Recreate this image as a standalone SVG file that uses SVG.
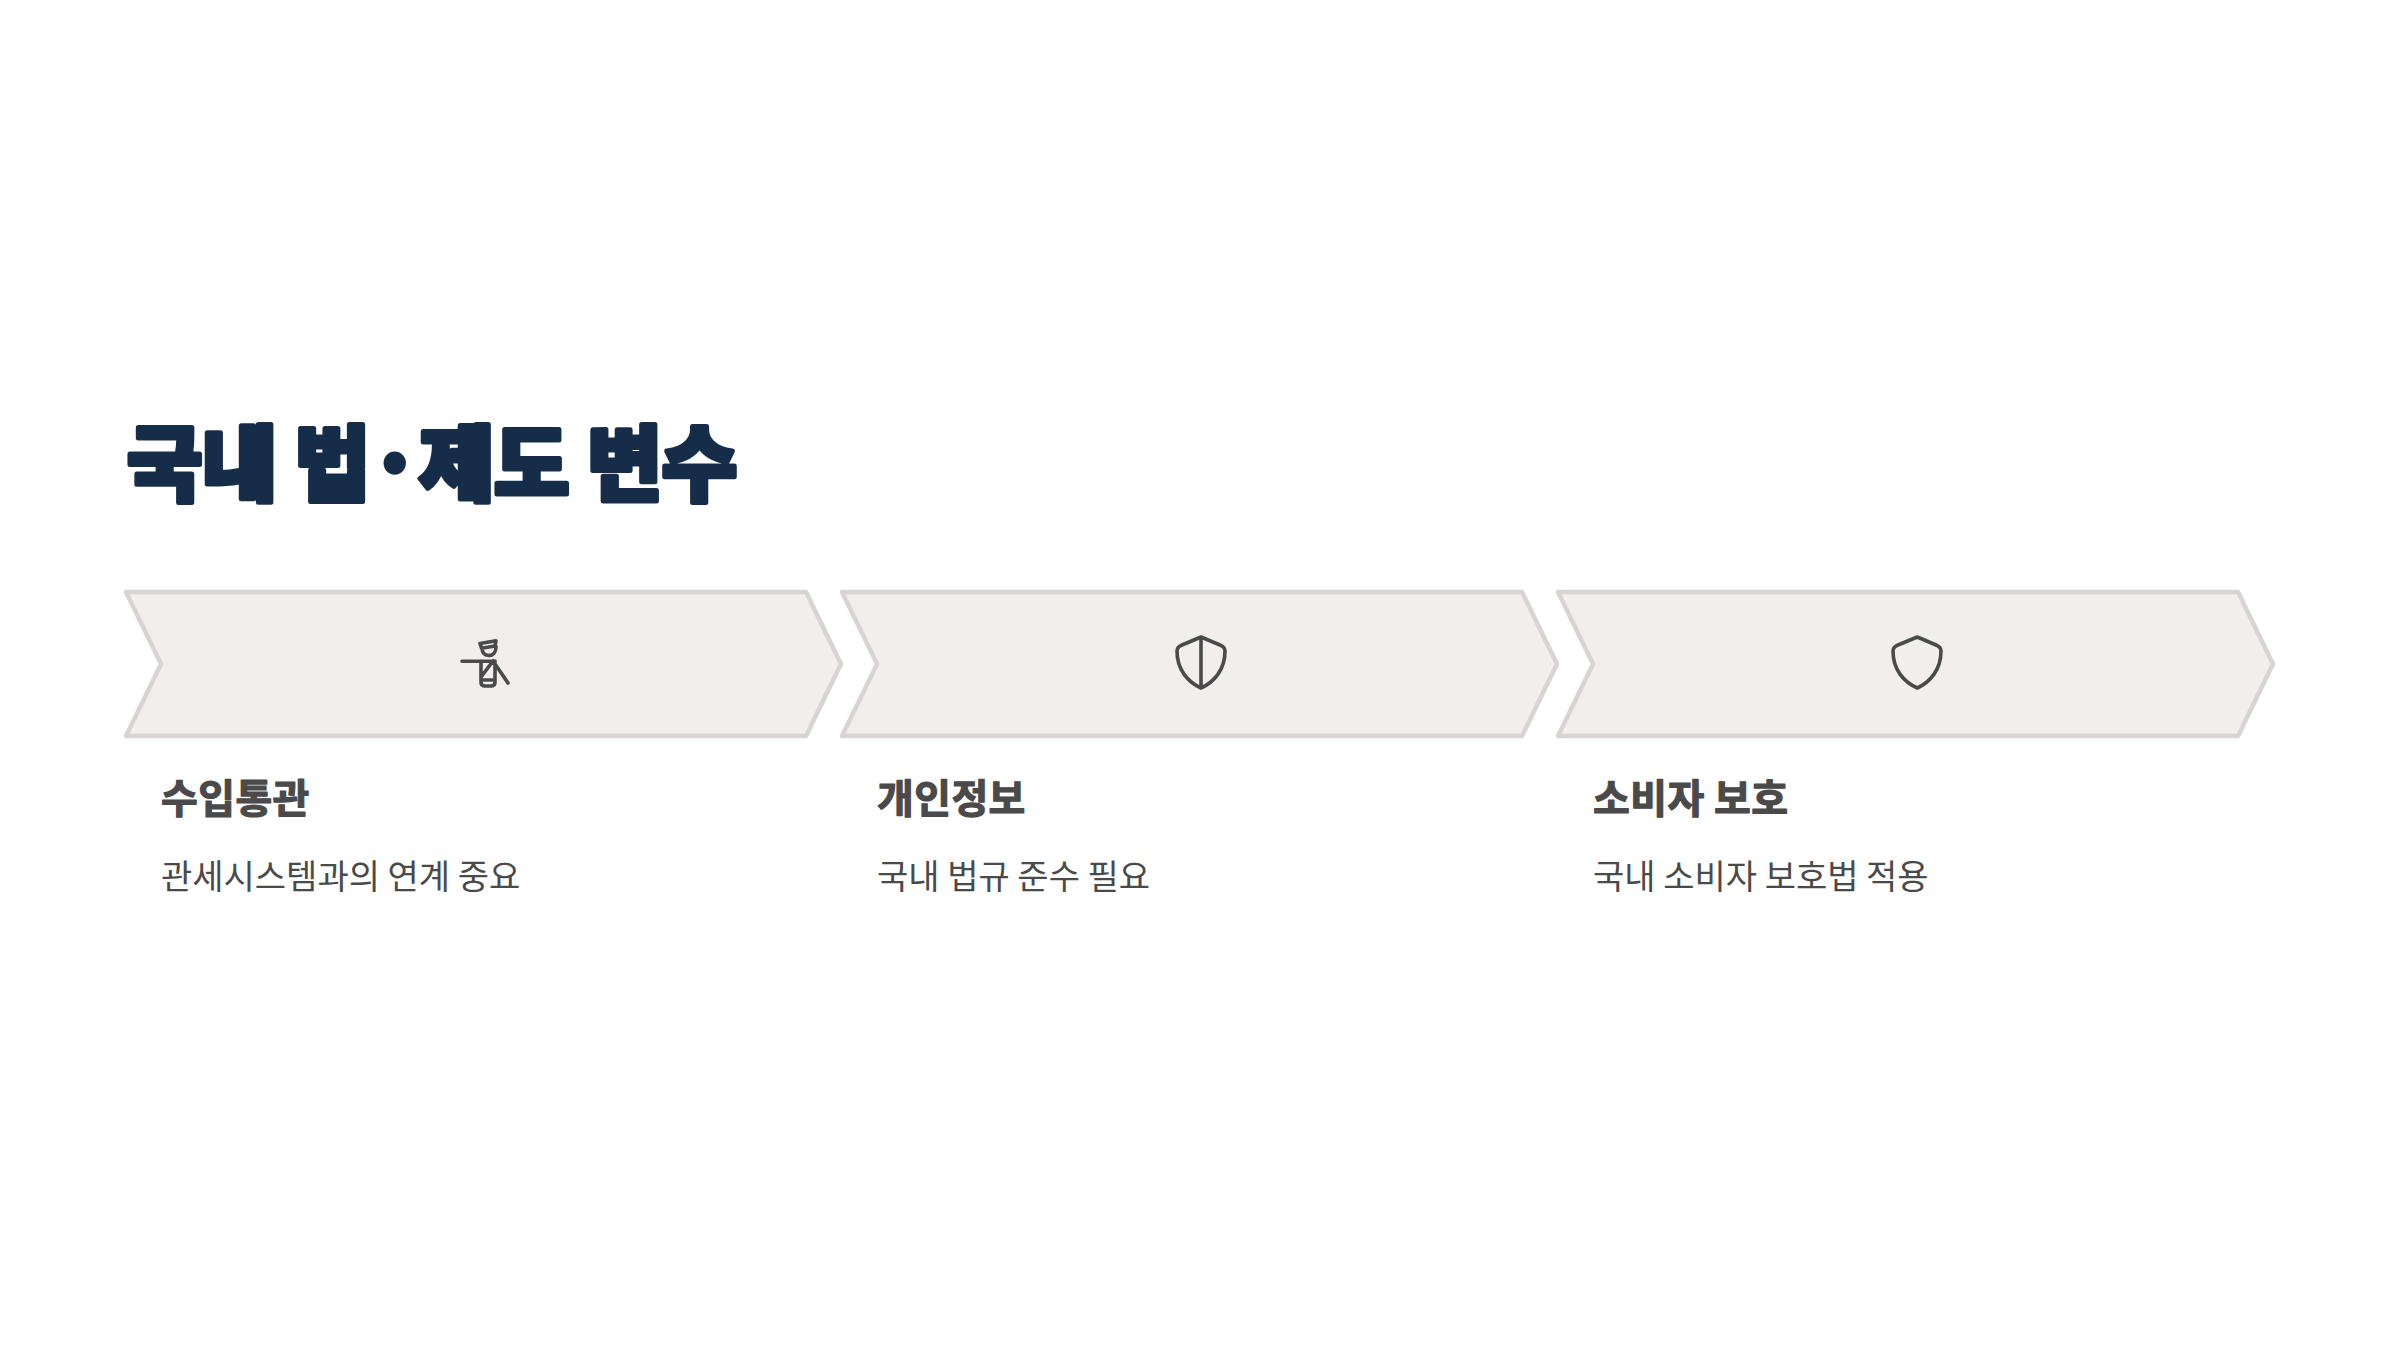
<svg xmlns="http://www.w3.org/2000/svg" width="2400" height="1350" viewBox="0 0 2400 1350">
<style>
.bg{fill:#fff}
.ch{fill:#f1eeed;stroke:#d8d4d3;stroke-width:4.5;stroke-linejoin:round}
.ic{fill:none;stroke:#4a4a4a;stroke-width:3.6;stroke-linecap:round;stroke-linejoin:round}
.t{font-family:"Noto Sans CJK KR","Noto Sans",sans-serif}
.ti{font-size:82px;font-weight:900;fill:#162d4a;stroke:#162d4a;stroke-width:5;stroke-linejoin:round;letter-spacing:-0.6px}
.h{font-size:40px;font-weight:700;fill:#4a4a4a;stroke:#4a4a4a;stroke-width:1.2;stroke-linejoin:round;letter-spacing:.4px}
.s{font-size:34px;font-weight:400;fill:#4a4a4a}
</style>
<rect class="bg" width="2400" height="1350"/>
<text class="t ti" x="127" y="494">국내 법·제도 변수</text>
<g id="node1"><path class="ch" d="M126 592H806L841 664L806 736H126L161 664Z"/>
<g class="ic"><path d="M480 643.5L496 640.7L495 646L481.7 648.3ZM482 648c0 5 3 7.5 7 7.5s7-3 7-9M462 661.3H492M481 661V682q0 4 4 4h6q4 0 4-4V661M481 677L493 661M481 680H494M493 661L508 683"/></g>
<text class="t h" x="161" y="813">수입통관</text><text class="t s" x="161" y="889">관세시스템과의 연계 중요</text></g>
<g id="node2"><path class="ch" d="M842 592H1522L1557 664L1522 736H842L877 664Z"/>
<g class="ic"><path d="M1201 637L1182 645Q1177 647 1177 651C1177 670 1188 682 1201 688C1214 682 1225 670 1225 651Q1225 647 1220 645ZM1201 637V688"/></g>
<text class="t h" x="877" y="813">개인정보</text><text class="t s" x="877" y="889">국내 법규 준수 필요</text></g>
<g id="node3"><path class="ch" d="M1558 592H2238L2273 664L2238 736H1558L1593 664Z"/>
<g class="ic"><path d="M1917.3 637L1898 645Q1893 647 1893 651C1893 670 1904 682 1917.3 688C1930 682 1941 670 1941 651Q1941 647 1936 645Z"/></g>
<text class="t h" x="1593" y="813">소비자 보호</text><text class="t s" x="1593" y="889">국내 소비자 보호법 적용</text></g>
</svg>
